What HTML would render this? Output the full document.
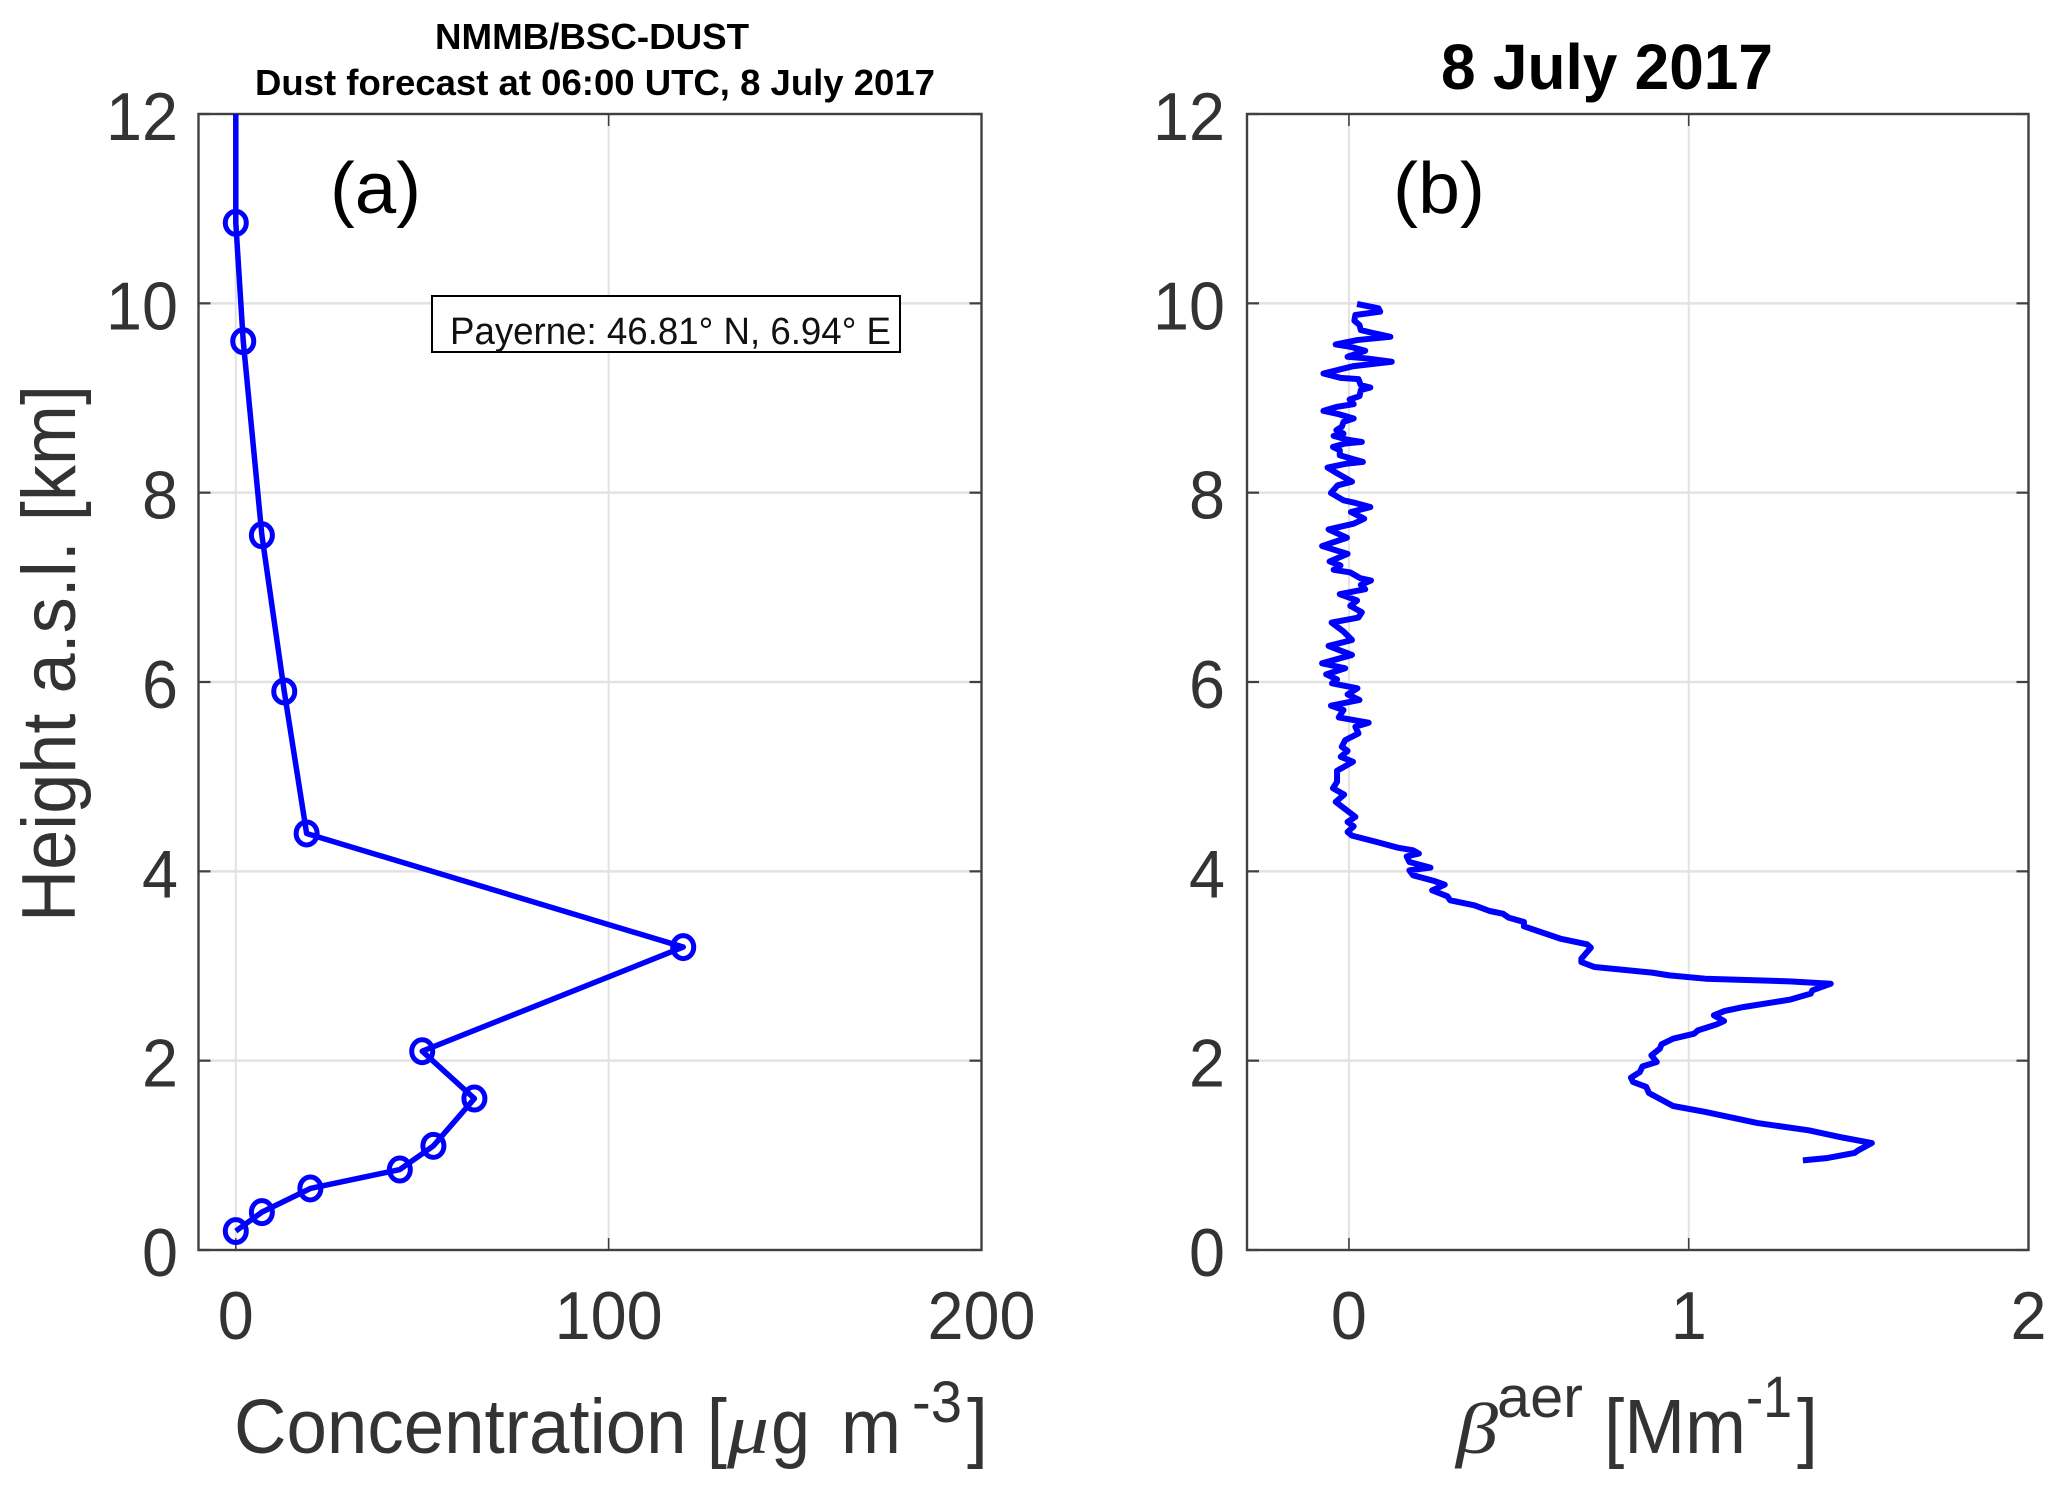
<!DOCTYPE html>
<html lang="en">
<head>
<meta charset="utf-8">
<title>Dust forecast and aerosol backscatter profiles</title>
<style>
html,body{margin:0;padding:0;background:#fff;}
svg{display:block;font-family:"Liberation Sans",Arial,sans-serif;}
</style>
</head>
<body>
<svg id="fig" xmlns="http://www.w3.org/2000/svg" width="2067" height="1492" viewBox="0 0 2067 1492">
  <rect width="2067" height="1492" fill="#fff"/>
  <g id="panelA"></g>
  <g id="panelB"></g>

  <text x="592" y="49" font-size="36" font-weight="bold" text-anchor="middle" textLength="314" lengthAdjust="spacingAndGlyphs">NMMB/BSC-DUST</text>
  <text x="595" y="95" font-size="36" font-weight="bold" text-anchor="middle" textLength="680" lengthAdjust="spacingAndGlyphs">Dust forecast at 06:00 UTC, 8 July 2017</text>
  <text x="1607" y="89" font-size="64" font-weight="bold" text-anchor="middle" textLength="332" lengthAdjust="spacingAndGlyphs">8 July 2017</text>

  <text x="330" y="213" font-size="72" textLength="91" lengthAdjust="spacingAndGlyphs">(a)</text>
  <text x="1393" y="213" font-size="72" textLength="92" lengthAdjust="spacingAndGlyphs">(b)</text>

  <g>
    <rect x="432" y="296" width="468" height="56" fill="#fff" stroke="#000" stroke-width="2"/>
    <text x="450" y="344" font-size="38" fill="#111" textLength="441" lengthAdjust="spacingAndGlyphs">Payerne: 46.81° N, 6.94° E</text>
  </g>

  <text transform="translate(75,922) rotate(-90)" font-size="76" fill="#333" textLength="537" lengthAdjust="spacingAndGlyphs">Height a.s.l. [km]</text>

  <g fill="#333">
    <text x="234" y="1453" font-size="77" textLength="493" lengthAdjust="spacingAndGlyphs">Concentration [</text>
    <text x="727" y="1453" font-size="72" font-style="italic" font-family="'Liberation Serif',serif" textLength="42" lengthAdjust="spacingAndGlyphs">μ</text>
    <text x="771" y="1453" font-size="77" textLength="39" lengthAdjust="spacingAndGlyphs">g</text>
    <text x="841" y="1453" font-size="77" textLength="60" lengthAdjust="spacingAndGlyphs">m</text>
    <text x="912" y="1422" font-size="58" textLength="50" lengthAdjust="spacingAndGlyphs">-3</text>
    <text x="967" y="1453" font-size="77" textLength="21" lengthAdjust="spacingAndGlyphs">]</text>
  </g>

  <g fill="#333">
    <text x="1456" y="1453" font-size="72" font-style="italic" font-family="'Liberation Serif',serif" textLength="42" lengthAdjust="spacingAndGlyphs">β</text>
    <text x="1497" y="1417" font-size="58" textLength="86" lengthAdjust="spacingAndGlyphs">aer</text>
    <text x="1604" y="1453" font-size="77" textLength="142" lengthAdjust="spacingAndGlyphs">[Mm</text>
    <text x="1746" y="1417" font-size="58" textLength="46" lengthAdjust="spacingAndGlyphs">-1</text>
    <text x="1797" y="1453" font-size="77" textLength="21" lengthAdjust="spacingAndGlyphs">]</text>
  </g>
</svg>

<script>
// Shared height axis ticks
const heightTicks = [0, 2, 4, 6, 8, 10, 12];

// Panel (a) data
const concTicks = [0, 100, 200];
const concValues = [0, 2, 7, 13, 19, 120, 50, 64, 53, 44, 20, 7, 0];
const concHeights = [10.85, 9.6, 7.55, 5.9, 4.4, 3.2, 2.1, 1.6, 1.1, 0.85, 0.65, 0.4, 0.2];
const concTopValue = [0];
const concTopHeight = [12];

// Panel (b) data
const betaTicks = [0, 1, 2];
const betaValues = [
  0.024,0.087,0.092,0.019,0.016,0.031,0.035,0.063,0.122,0.024,-0.039,0.004,0.048,-0.004,0.053,0.126,0.014,-0.075,-0.025,0.028,
  0.035,0.063,0.035,0.031,0.002,0.014,-0.035,-0.075,-0.030,0.014,-0.016,-0.021,-0.037,-0.016,-0.045,-0.006,0.038,-0.011,-0.047,-0.027,
  -0.027,0.041,-0.006,-0.063,-0.033,0.009,-0.033,-0.053,-0.016,0.019,0.063,0.006,0.045,0.014,-0.060,-0.006,-0.079,-0.004,-0.057,-0.025,
  -0.045,0.004,0.033,0.065,0.035,0.048,-0.027,0.024,0.004,0.038,0.028,-0.051,-0.016,0.009,-0.060,-0.025,0.009,-0.079,-0.011,-0.067,
  -0.035,-0.050,0.025,-0.004,0.031,-0.053,-0.016,-0.030,0.058,0.019,0.028,-0.011,-0.021,-0.004,-0.024,0.012,-0.035,-0.035,-0.047,-0.014,
  -0.039,0.019,-0.004,0.014,-0.004,0.009,0.082,0.144,0.189,0.206,0.170,0.178,0.240,0.178,0.189,0.251,0.282,0.245,0.290,0.298,
  0.369,0.414,0.453,0.470,0.515,0.515,0.622,0.701,0.712,0.684,0.684,0.723,0.892,0.943,1.049,1.297,1.418,1.364,1.359,1.297,
  1.162,1.106,1.074,1.104,1.083,1.027,1.016,0.954,0.920,0.915,0.890,0.906,0.864,0.856,0.830,0.836,0.875,0.883,0.954,1.049,
  1.201,1.353,1.454,1.539,1.499,1.488,1.409,1.336
];
const betaHeights = [
  9.993,9.947,9.912,9.877,9.817,9.771,9.718,9.693,9.647,9.612,9.566,9.541,9.499,9.436,9.418,9.383,9.337,9.259,9.213,9.199,
  9.136,9.111,9.083,9.019,8.984,8.935,8.907,8.864,8.829,8.783,8.748,8.695,8.660,8.624,8.600,8.561,8.536,8.519,8.483,8.448,
  8.395,8.325,8.307,8.265,8.201,8.116,8.078,7.997,7.919,7.891,7.848,7.795,7.725,7.672,7.612,7.524,7.436,7.354,7.273,7.231,
  7.185,7.157,7.097,7.072,7.026,6.980,6.928,6.861,6.804,6.737,6.681,6.628,6.533,6.444,6.381,6.332,6.286,6.198,6.145,6.081,
  6.028,5.986,5.933,5.869,5.810,5.750,5.704,5.626,5.570,5.527,5.457,5.386,5.316,5.273,5.210,5.157,5.062,4.945,4.878,4.811,
  4.734,4.575,4.522,4.476,4.416,4.377,4.310,4.250,4.222,4.187,4.158,4.099,4.039,4.011,3.958,3.898,3.859,3.799,3.736,3.694,
  3.641,3.581,3.553,3.511,3.465,3.419,3.289,3.229,3.194,3.077,3.042,2.989,2.930,2.901,2.866,2.838,2.813,2.743,2.708,2.644,
  2.567,2.525,2.479,2.419,2.384,2.320,2.285,2.232,2.173,2.127,2.056,1.986,1.940,1.880,1.821,1.775,1.722,1.658,1.521,1.458,
  1.342,1.264,1.187,1.130,1.053,1.025,0.972,0.947
];

const NS = 'http://www.w3.org/2000/svg';
const AXIS = '#404040', GRID = '#e2e2e2', INK = '#333', BLUE = '#0000ff';
const TOP = 114, BOTTOM = 1250, TICK = 12;

function yScale(h) { return BOTTOM - (BOTTOM - TOP) * h / 12; }
function xScaleA(v) { return 198.5 + (981.5 - 198.5) * (v + 10) / 210; }
function xScaleB(v) { return 1247 + (2028.5 - 1247) * (v + 0.3) / 2.3; }

function make(tag, attrs, parent) {
  const el = document.createElementNS(NS, tag);
  for (const k in attrs) el.setAttribute(k, attrs[k]);
  parent.appendChild(el);
  return el;
}

function drawAxes(group, prefix, left, right, xTicks, xScale, yLabelRight) {
  for (const t of xTicks) {
    const x = xScale(t);
    if (x > left + 1 && x < right - 1) {
      const g = make('line', {x1:x, x2:x, y1:TOP, y2:BOTTOM, stroke:GRID, 'stroke-width':2}, group);
      
      
    }
  }
  for (const t of heightTicks) {
    const y = yScale(t);
    if (y > TOP + 1 && y < BOTTOM - 1) {
      const g = make('line', {x1:left, x2:right, y1:y, y2:y, stroke:GRID, 'stroke-width':2.5}, group);
      
      
    }
  }
  for (const t of xTicks) {
    const x = xScale(t);
    const a = make('line', {x1:x, x2:x, y1:BOTTOM, y2:BOTTOM - TICK, stroke:AXIS, 'stroke-width':1.6}, group);
    
    
    const b = make('line', {x1:x, x2:x, y1:TOP, y2:TOP + TICK, stroke:AXIS, 'stroke-width':1.6}, group);
    
    
    const s = String(t);
    const lab = make('text', {x:x, y:1339, 'font-size':68, fill:INK, 'text-anchor':'middle', textLength:s.length * 36, lengthAdjust:'spacingAndGlyphs'}, group);
    lab.textContent = s;
    
    
  }
  for (const t of heightTicks) {
    const y = yScale(t);
    const a = make('line', {x1:left, x2:left + TICK, y1:y, y2:y, stroke:AXIS, 'stroke-width':2.2}, group);
    
    
    const b = make('line', {x1:right, x2:right - TICK, y1:y, y2:y, stroke:AXIS, 'stroke-width':2.2}, group);
    
    
    const s = String(t);
    const lab = make('text', {x:yLabelRight, y:y + 26, 'font-size':68, fill:INK, 'text-anchor':'end', textLength:s.length * 36, lengthAdjust:'spacingAndGlyphs'}, group);
    lab.textContent = s;
    
    
  }
  const frame = make('rect', {x:left, y:TOP, width:right - left, height:BOTTOM - TOP, fill:'none', stroke:AXIS, 'stroke-width':2.4}, group);
  
  
}

function pointsOf(xs, ys, xScale) {
  return xs.map((v, i) => xScale(v).toFixed(2) + ',' + yScale(ys[i]).toFixed(2)).join(' ');
}

const panelA = document.getElementById('panelA');
const panelB = document.getElementById('panelB');

drawAxes(panelA, 'panel-a', 198.5, 981.5, concTicks, xScaleA, 178);
drawAxes(panelB, 'panel-b', 1247, 2028.5, betaTicks, xScaleB, 1225);

const lineA = make('polyline', {
  points: pointsOf(concTopValue.concat(concValues), concTopHeight.concat(concHeights), xScaleA),
  fill:'none', stroke:BLUE, 'stroke-width':5.5, 'stroke-linejoin':'round'
}, panelA);



concValues.forEach((v, i) => {
  const c = make('ellipse', {cx:xScaleA(v), cy:yScale(concHeights[i]), rx:10.5, ry:11.5, fill:'none', stroke:BLUE, 'stroke-width':5}, panelA);
  
  
});

const lineB = make('polyline', {
  points: pointsOf(betaValues, betaHeights, xScaleB),
  fill:'none', stroke:BLUE, 'stroke-width':6, 'stroke-linejoin':'round', 'stroke-linecap':'butt'
}, panelB);


</script>
</body>
</html>
